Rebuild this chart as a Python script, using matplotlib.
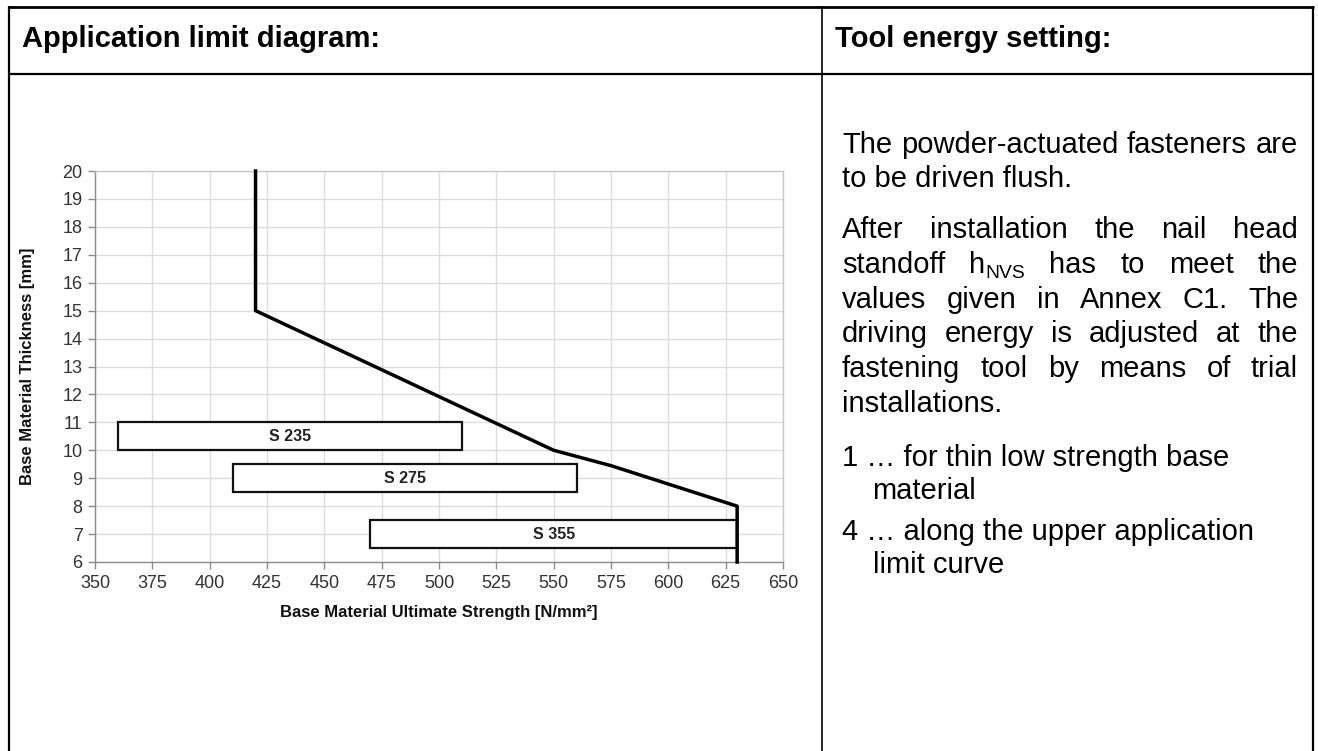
import matplotlib
matplotlib.use("Agg")
import matplotlib.pyplot as plt
from matplotlib.lines import Line2D
from matplotlib.patches import Rectangle

plt.rcParams['font.family'] = ['Liberation Sans', 'DejaVu Sans']

# ---- data ----
limit_strength = [420, 420, 550, 575, 630, 630]
limit_thickness = [20, 15, 10, 9.45, 8, 6]

steel_grades = ["S 235", "S 275", "S 355"]
grade_strength_min = [360, 410, 470]
grade_strength_max = [510, 560, 630]
grade_thick_min = [10.0, 8.5, 6.5]
grade_thick_max = [11.0, 9.5, 7.5]

x_ticks = list(range(350, 651, 25))
y_ticks = list(range(6, 21, 1))

header_left = "Application limit diagram:"
header_right = "Tool energy setting:"
x_label = "Base Material Ultimate Strength [N/mm²]"
y_label = "Base Material Thickness [mm]"

W, H = 1318, 751
fig = plt.figure(figsize=(W / 100, H / 100), dpi=100)

def fx(px):
    return px / W

def fy(py):
    return 1 - py / H

# ---- table lines ----
def hline(y, x0, x1, lw):
    fig.add_artist(Line2D([fx(x0), fx(x1)], [fy(y), fy(y)], color='black', lw=lw,
                          transform=fig.transFigure, solid_capstyle='butt'))

def vline(x, y0, y1, lw):
    fig.add_artist(Line2D([fx(x), fx(x)], [fy(y0), fy(y1)], color='black', lw=lw,
                          transform=fig.transFigure, solid_capstyle='butt'))

hline(7, 8, 1314, 2.0)
hline(74, 8, 1314, 1.6)
vline(9, 6, 751, 1.6)
vline(1313, 6, 751, 1.6)
vline(821.5, 6, 751, 1.2)

fig.text(fx(22), fy(47), header_left, fontsize=21, fontweight='bold', va='baseline', ha='left')
fig.text(fx(835), fy(47), header_right, fontsize=21, fontweight='bold', va='baseline', ha='left')

# ---- chart ----
ax = fig.add_axes([fx(95), fy(562), fx(783) - fx(95), fy(171) - fy(562)])
ax.set_xlim(350, 650)
ax.set_ylim(6, 20)
ax.set_xticks(x_ticks)
ax.set_yticks(y_ticks)
ax.grid(True, color='#dcdcdc', lw=1.0)
ax.set_axisbelow(True)
for s in ['top', 'right']:
    ax.spines[s].set_color('#c8c8c8')
    ax.spines[s].set_linewidth(1.0)
for s in ['left', 'bottom']:
    ax.spines[s].set_color('#8c8c8c')
    ax.spines[s].set_linewidth(1.0)
ax.tick_params(axis='both', labelsize=13, colors='#8c8c8c', labelcolor='#333333',
               length=5, width=1.0, pad=4)

for name, x0, x1, y0, y1 in zip(steel_grades, grade_strength_min, grade_strength_max,
                                grade_thick_min, grade_thick_max):
    ax.add_patch(Rectangle((x0, y0), x1 - x0, y1 - y0, facecolor='white',
                           edgecolor='#111111', lw=1.6, zorder=3))
    ax.text((x0 + x1) / 2, (y0 + y1) / 2, name, ha='center', va='center',
            fontsize=11.5, fontweight='bold', color='#222222', zorder=4)

ax.plot(limit_strength, limit_thickness, color='black', lw=2.5, zorder=5,
        solid_joinstyle='round', clip_on=False)

fig.text(fx(439), fy(612), x_label, fontsize=12, fontweight='bold', ha='center',
         va='center', color='#111111')
fig.text(fx(28), fy(366), y_label, fontsize=12, fontweight='bold', ha='center',
         va='center', rotation=90, color='#111111')

# ---- right text panel ----
renderer = fig.canvas.get_renderer()
FS = 21
LEFT, RIGHT = 842, 1298

def width_of(s, size=FS):
    t = fig.text(0, 0, s, fontsize=size)
    w = t.get_window_extent(renderer).width
    t.remove()
    return w

def draw_left(s, x, base):
    fig.text(fx(x), fy(base), s, fontsize=FS, ha='left', va='baseline')

def draw_justified(words, base):
    widths = []
    for w, sub in words:
        ww = width_of(w)
        if sub:
            ww += width_of(sub, FS * 0.66)
        widths.append(ww)
    gap = (RIGHT - LEFT - sum(widths)) / (len(words) - 1)
    x = LEFT
    for (w, sub), ww in zip(words, widths):
        fig.text(fx(x), fy(base), w, fontsize=FS, ha='left', va='baseline')
        if sub:
            fig.text(fx(x + width_of(w)), fy(base + 5), sub, fontsize=FS * 0.66,
                     ha='left', va='baseline')
        x += ww + gap

def words_of(s):
    return [(w, None) for w in s.split()]

draw_justified(words_of("The powder-actuated fasteners are"), 153)
draw_left("to be driven flush.", LEFT, 187)
draw_justified(words_of("After installation the nail head"), 238)
draw_justified([("standoff", None), ("h", "NVS"), ("has", None), ("to", None),
                ("meet", None), ("the", None)], 273)
draw_justified(words_of("values given in Annex C1. The"), 308)
draw_justified(words_of("driving energy is adjusted at the"), 342)
draw_justified(words_of("fastening tool by means of trial"), 377)
draw_left("installations.", LEFT, 412)
draw_left("1 … for thin low strength base", LEFT, 466)
draw_left("material", 872, 499)
draw_left("4 … along the upper application", LEFT, 540)
draw_left("limit curve", 873, 573)

fig.savefig("out.png", dpi=100)
